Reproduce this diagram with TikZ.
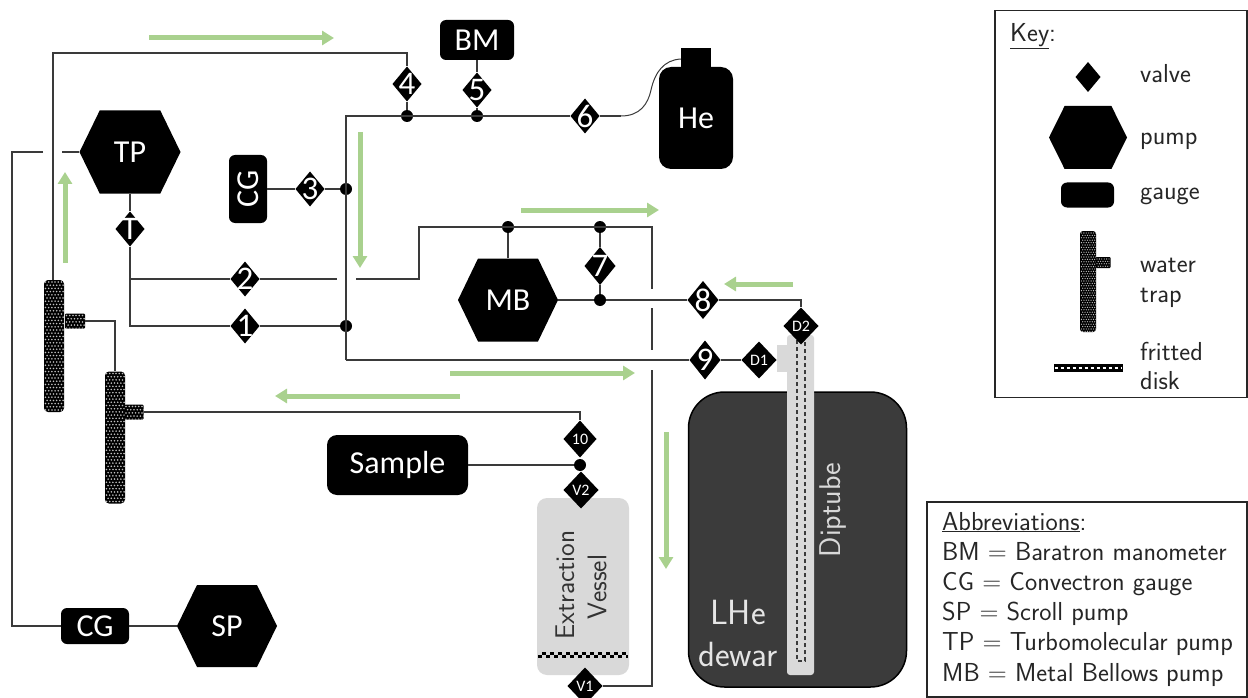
\documentclass[tikz,border=0pt]{standalone}
\usepackage{fontspec}
\newfontfamily\labfont{Carlito}
\usetikzlibrary{calc,arrows.meta}
\definecolor{pipe}{HTML}{3A3A3A}
\definecolor{flow}{HTML}{A9D18E}
\definecolor{vesselgray}{HTML}{D9D9D9}
\definecolor{dewargray}{HTML}{3B3B3B}
\newcommand{\bb}{path picture bounding box}
\tikzset{
  x=1pt,y=-1pt,
  pipeline/.style={draw=pipe,line width=1.3pt,line join=miter},
  flowarrow/.style={draw=flow,line width=5pt,-{Triangle[width=14pt,length=12pt]}},
  lab/.style={text=white,font=\labfont\fontsize{32}{32}\selectfont,inner sep=0pt},
  valve/.style={lab,font=\labfont\fontsize{33}{33}\selectfont,minimum width=29pt,minimum height=35pt,
    path picture={\fill[black] (\bb.north)--(\bb.east)--(\bb.south)--(\bb.west)--cycle;}},
  valvesmall/.style={valve,minimum width=35pt,minimum height=37pt,
    font=\labfont\fontsize{16}{16}\selectfont},
  hexpump/.style 2 args={lab,minimum width=#1pt,minimum height=#2pt,
    path picture={\fill[black] ($(\bb.north west)!0.2!(\bb.north east)$)--($(\bb.north west)!0.8!(\bb.north east)$)
      --(\bb.east)--($(\bb.south west)!0.8!(\bb.south east)$)--($(\bb.south west)!0.2!(\bb.south east)$)--(\bb.west)--cycle;}},
  gauge/.style 2 args={lab,fill=black,rounded corners=6pt,minimum width=#1pt,minimum height=#2pt},
  junction/.style={circle,fill=black,inner sep=0pt,minimum size=12pt},
  trapbody/.style 2 args={fill=black,inner sep=0pt,rounded corners=#2pt,
    path picture={\foreach \j in {0,...,45}{\foreach \i in {0,...,8}{
      \pgfmathsetmacro{\ox}{1.5+\i*#1+0.5*#1*mod(\j,2)}
      \pgfmathsetmacro{\oy}{2+\j*#1}
      \fill[white!75!black] ([shift={(\ox,\oy)}]\bb.north west) circle (0.28*#1);}}}},
  frit/.style={inner sep=0pt,
    path picture={\draw[black,line width=3pt,dash pattern=on 4pt off 4pt] ([yshift=-1.5pt]\bb.west)--([yshift=-1.5pt]\bb.east);
      \draw[black,line width=3pt,dash pattern=on 4pt off 4pt,dash phase=4pt] ([yshift=1.5pt]\bb.west)--([yshift=1.5pt]\bb.east);}},
  legend/.style={anchor=base west,inner sep=0pt,text=black!85,font=\sffamily\fontsize{26}{30}\selectfont},
  framebox/.style={draw=black!85,line width=1.6pt,fill=white,inner sep=0pt},
  bigtext/.style={inner sep=0pt,font=\sffamily\fontsize{35}{38}\selectfont,text=white!90!black},
}
\begin{document}
\begin{tikzpicture}
\useasboundingbox (0,0) rectangle (1248,698);
% vessels
\node[fill=vesselgray,rounded corners=10pt,minimum width=92pt,minimum height=177pt,inner sep=0pt] (EV) at (583,586.5) {};
\node[inner sep=0pt,rotate=90,text=black!80,font=\sffamily\fontsize{27}{27}\selectfont] (EVa) at (565,585) {Extraction};
\node[inner sep=0pt,rotate=90,text=black!80,font=\sffamily\fontsize{27}{27}\selectfont] (EVb) at (597,587) {Vessel};
\node[frit,minimum width=90pt,minimum height=6pt] (EVf) at (583,655) {};
\node[draw=black,line width=1.5pt,fill=dewargray,rounded corners=36pt,minimum width=218pt,minimum height=295pt,inner sep=0pt] (DW) at (797.5,539.5) {};
\node[fill=vesselgray,inner sep=0pt,minimum width=10pt,minimum height=27pt] (DS) at (782,358.5) {};
\node[fill=vesselgray,rounded corners=3pt,inner sep=0pt,minimum width=27pt,minimum height=340pt] (DT) at (800.5,505) {};
\coordinate (da) at (797,340); \coordinate (db) at (797,661);
\coordinate (dc) at (805,661); \coordinate (dd) at (805,340);
\draw[pipe,line width=1.4pt,dash pattern=on 4pt off 3pt] (da)--(db)--(dc)--(dd);
\node[inner sep=0pt,rotate=90,text=vesselgray,font=\sffamily\fontsize{30}{30}\selectfont] (DTt) at (833,510) {Diptube};
\node[bigtext] (LHe) at (738,612) {LHe};
\node[bigtext] (dew) at (738,654) {dewar};
% equipment
\node[hexpump={101}{83}] (TP) at (130,152) {TP};
\node[hexpump={100}{83}] (MB) at (508,300) {MB};
\node[hexpump={100}{82}] (SP) at (227,626) {SP};
\node[gauge={74}{40}] (BM) at (477,40) {BM};
\node[gauge={38}{68}] (CGa) at (248,189) {\rotatebox{90}{CG}};
\node[gauge={68}{36}] (CGb) at (95,626) {CG};
\node[gauge={141}{60},rounded corners=10pt] (Sample) at (397.5,465) {Sample};
\node[fill=black,inner sep=0pt,minimum width=30pt,minimum height=22pt] (Heneck) at (696,59) {};
\node[gauge={74}{102},rounded corners=12pt] (He) at (696,118) {He};
% valves
\node[valve] (v4) at (407,84) {4};
\node[valve] (v5) at (477,90) {5};
\node[valve] (v6) at (585,116) {6};
\node[valve] (v3) at (310,189) {3};
\node[valve] (vT) at (130,229) {T};
\node[valve] (v2) at (245,279) {2};
\node[valve] (v1) at (245,326) {1};
\node[valve,minimum width=31pt,minimum height=38pt] (v7) at (600,266) {7};
\node[valve,minimum width=31pt,minimum height=38pt] (v8) at (703,300) {8};
\node[valve,minimum width=31pt,minimum height=39pt] (v9) at (705,360) {9};
\node[valvesmall] (vDa) at (759,360) {D1};
\node[valvesmall] (vDb) at (801,326) {D2};
\node[valvesmall,minimum width=33pt] (v10) at (580,439) {10};
\node[valvesmall] (vVb) at (581,490) {V2};
\node[valvesmall] (vVa) at (585,686) {V1};
% water traps
\node[trapbody={3.2}{4},minimum width=20pt,minimum height=132pt] (TRa) at (54,346) {};
\node[trapbody={3.2}{1},minimum width=20pt,minimum height=15pt] (TRas) at (75,321) {};
\node[trapbody={3.2}{4},minimum width=20pt,minimum height=132pt] (TRb) at (115,437.5) {};
\node[trapbody={3.2}{1},minimum width=19pt,minimum height=15pt] (TRbs) at (134,412) {};
% junctions
\node[junction] (j4) at (407,116) {};
\node[junction] (j5) at (477,116) {};
\node[junction] (j3) at (346,189) {};
\node[junction] (j1) at (346,326) {};
\node[junction] (jm) at (508,227) {};
\node[junction] (j7a) at (600,227) {};
\node[junction] (j7b) at (600,300) {};
\node[junction] (js) at (580,465) {};
% free pipe points
\coordinate (ctop) at (407,53);
\coordinate (ca) at (346,116);
\coordinate (cb) at (346,360);
\coordinate (cc) at (621,116);
\coordinate (tg1) at (62,152); \coordinate (tg2) at (43,152);
\coordinate (tcorner) at (12,152); \coordinate (bcorner) at (12,626);
\coordinate (lb) at (130,279); \coordinate (lc) at (130,326);
\coordinate (g2a) at (337,279); \coordinate (g2b) at (356,279);
\coordinate (k1) at (419,279); \coordinate (k2) at (419,227);
\coordinate (k3) at (652,227); \coordinate (k4) at (652,289);
\coordinate (k5) at (652,308); \coordinate (k6) at (652,350);
\coordinate (k7) at (652,370); \coordinate (k8) at (652,686);
\coordinate (r8) at (801,300);
\coordinate (t1) at (115,321);
\coordinate (t2) at (580,412);
\coordinate (ta) at (53,280);
% pipes
\draw[pipeline] (ta)--(ta|-ctop)--(ctop)--(v4.north);
\draw[pipeline] (v4.south)--(j4);
\draw[pipeline] (v5.south)--(j5);
\draw[pipeline] (BM.south)--(v5.north);
\draw[pipeline] (cb)--(ca)--(v6.west);
\draw[pipeline] (v6.east)--(cc);
\draw[draw=pipe,line width=1pt] (cc) .. controls (640,116) and (648,104) .. (651,90) .. controls (655,72) and (664,60) .. (Heneck.west);
\draw[pipeline] (cb)--(v9.west);
\draw[pipeline] (v9.east)--(vDa.west);
\draw[pipeline] (CGa.east)--(v3.west);
\draw[pipeline] (v3.east)--(j3);
\draw[pipeline] (TP.west)--(tg1);
\draw[pipeline] (tg2)--(tcorner)--(bcorner)--(CGb.west);
\draw[pipeline] (CGb.east)--(SP.west);
\draw[pipeline] (TP.south)--(vT.north);
\draw[pipeline] (vT.south)--(lc)--(v1.west);
\draw[pipeline] (v1.east)--(j1);
\draw[pipeline] (lb)--(v2.west);
\draw[pipeline] (v2.east)--(g2a);
\draw[pipeline] (g2b)--(k1)--(k2)--(k3)--(k4);
\draw[pipeline] (k5)--(k6);
\draw[pipeline] (k7)--(k8)--(vVa.east);
\draw[pipeline] (MB.north)--(jm);
\draw[pipeline] (MB.east)--(j7b);
\draw[pipeline] (j7b)--(v8.west);
\draw[pipeline] (j7a)--(v7.north);
\draw[pipeline] (v7.south)--(j7b);
\draw[pipeline] (v8.east)--(r8)--(vDb.north);
\draw[pipeline] (TRas.east)--(t1)--(TRb.north);
\draw[pipeline] (TRbs.east)--(t2)--(v10.north);
\draw[pipeline] (Sample.east)--(js);
% flow arrows
\draw[flowarrow] (149,38)--(334,38);
\draw[flowarrow] (65,263)--(65,172);
\draw[flowarrow] (360,132)--(360,268);
\draw[flowarrow] (521,210)--(659,210);
\draw[flowarrow] (793,284)--(724,284);
\draw[flowarrow] (450,373)--(635,373);
\draw[flowarrow] (460,396)--(275,396);
\draw[flowarrow] (666,432)--(666,569);
% key
\node[framebox,minimum width=252pt,minimum height=387pt] (KEY) at (1121,204) {};
\node[legend] (ktitle) at (1010,42) {\underline{Key}:};
\node[valve,minimum width=25pt,minimum height=30pt] (kv) at (1088,77) {};
\node[hexpump={78}{63}] (kp) at (1088,137.5) {};
\node[gauge={53}{25}] (kg) at (1087.5,195) {};
\node[trapbody={2.4}{3},minimum width=16pt,minimum height=101pt] (ktr) at (1088,281.5) {};
\node[trapbody={2.4}{1},minimum width=15pt,minimum height=11pt] (ktrs) at (1103,262.5) {};
\node[fill=black,draw=black,inner sep=0pt,minimum width=68pt,minimum height=7pt,
  path picture={\draw[white,line width=2pt,dash pattern=on 3pt off 3pt] (\bb.west)--(\bb.east);}] (kf) at (1088.5,368) {};
\node[legend] (t1a) at (1140,83) {valve};
\node[legend] (t2a) at (1140,145) {pump};
\node[legend] (t3a) at (1140,200) {gauge};
\node[legend] (t4a) at (1140,272) {water};
\node[legend] (t4b) at (1140,302) {trap};
\node[legend] (t5a) at (1140,360) {fritted};
\node[legend] (t5b) at (1140,389) {disk};
% abbreviations
\node[framebox,minimum width=320pt,minimum height=195pt] (ABB) at (1087,599.5) {};
\node[legend] (a0) at (942,530) {\underline{Abbreviations}:};
\node[legend] (a1) at (942,560) {BM = Baratron manometer};
\node[legend] (a2) at (942,590) {CG = Convectron gauge};
\node[legend] (a3) at (942,620) {SP = Scroll pump};
\node[legend] (a4) at (942,650) {TP = Turbomolecular pump};
\node[legend] (a5) at (942,681) {MB = Metal Bellows pump};
\end{tikzpicture}
\end{document}
